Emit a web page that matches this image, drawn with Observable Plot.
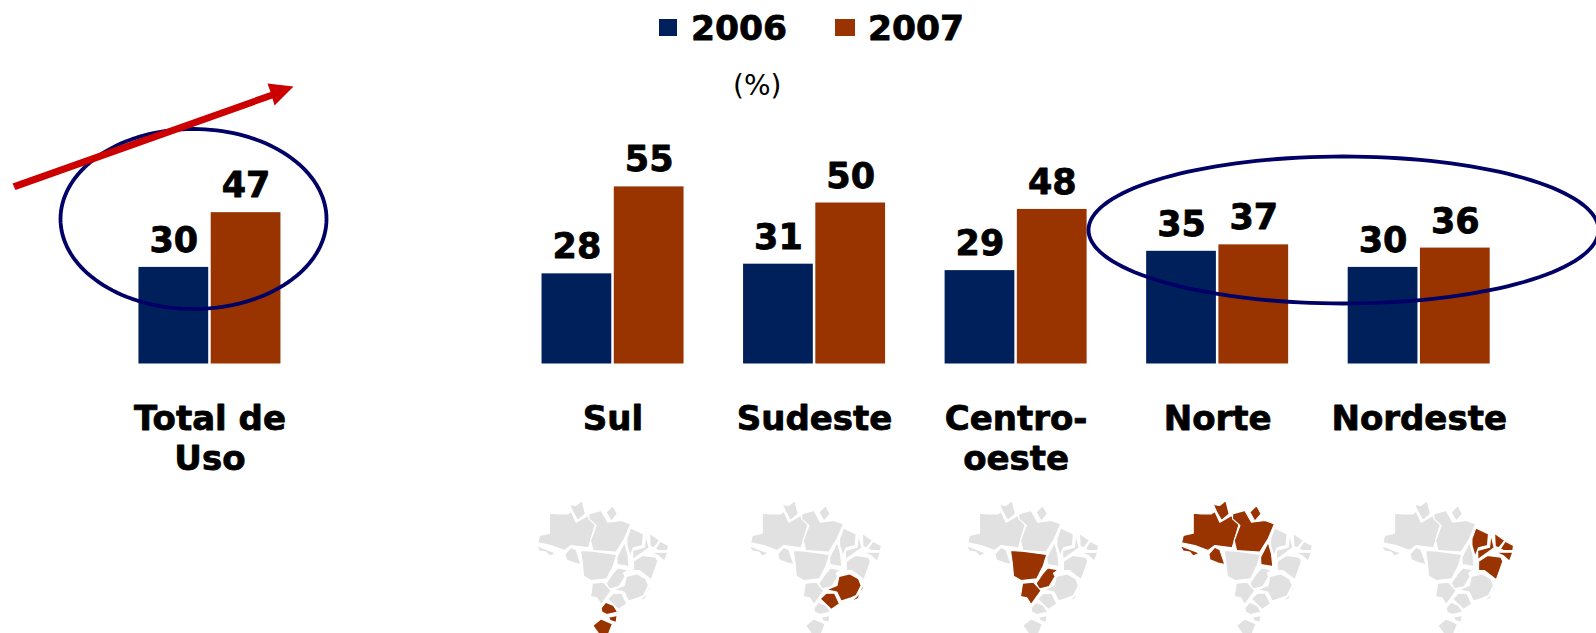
<!DOCTYPE html>
<html lang="pt">
<head>
<meta charset="utf-8">
<script src="https://cdn.jsdelivr.net/npm/d3@7"></script>
<script src="https://cdn.jsdelivr.net/npm/@observablehq/plot@0.6"></script>
<style>
html,body{margin:0;padding:0;background:#fff;overflow:hidden}
body{width:1596px;height:633px;font-family:"DejaVu Sans",sans-serif;color:#000}
#head{position:relative;height:110px;width:1596px}
#head span{position:absolute;line-height:1;white-space:nowrap}
#head .sw{display:block;position:absolute;top:19px;height:17px}
#head .yr{font-size:34.5px;font-weight:bold;top:11px;-webkit-text-stroke:0.8px #000}
#head .un{font-size:28px;left:733px;top:72px}
#chart svg{display:block}
</style>
</head>
<body>
<div id="head">
  <span class="sw" style="left:659px;width:18px;background:#00205c"></span>
  <span class="yr" style="left:691px">2006</span>
  <span class="sw" style="left:835px;width:20px;background:#993300"></span>
  <span class="yr" style="left:868px">2007</span>
  <span class="un">(%)</span>
</div>
<div id="chart"></div>
<script>
const categories = ["Total de Uso", "gap", "Sul", "Sudeste", "Centro-oeste", "Norte", "Nordeste"];
const categoryLabels = ["Total de\nUso", "", "Sul", "Sudeste", "Centro-\noeste", "Norte", "Nordeste"];
const series = ["2006", "2007"];
const values2006 = [30, null, 28, 31, 29, 35, 30];
const values2007 = [47, null, 55, 50, 48, 37, 36];
const seriesColors = ["#00205c", "#993300", "#e1e1e1"];

// Brazil's states
const stateNames = ["RR","AP","AM","AC","RO","PA","MT","TO","MA","PI","CE","NE1","NE2","BA","GO","MG","MS","SP","ES","PR","SC","RS"];
const statePoints = [
  [[153,42],[172,45],[191,30],[201,70],[178,90],[165,68]],
  [[263,65],[283,45],[297,70],[278,92]],
  [[93,68],[118,70],[148,70],[158,62],[173,95],[208,75],[231,100],[210,172],[158,165],[138,180],[98,165],[58,157],[63,135],[93,128]],
  [[53,165],[113,188],[93,197],[83,185],[63,182]],
  [[140,190],[158,170],[173,178],[188,222],[168,218],[143,208]],
  [[211,70],[248,60],[268,95],[308,90],[337,100],[318,145],[293,185],[223,180],[216,150],[233,105],[211,85]],
  [[186,180],[222,182],[295,192],[285,225],[265,265],[218,270],[195,257],[191,215]],
  [[318,155],[328,190],[332,228],[296,222],[295,200]],
  [[337,112],[375,130],[372,165],[345,172],[335,198],[325,165],[325,145]],
  [[382,130],[392,172],[360,195],[343,207],[342,180],[378,170]],
  [[393,128],[424,150],[406,172],[395,168]],
  [[425,152],[450,165],[448,180],[420,180],[410,175]],
  [[395,185],[448,185],[438,212],[420,196]],
  [[345,240],[345,212],[372,195],[412,200],[418,212],[410,235],[398,268],[362,240]],
  [[298,232],[330,238],[315,248],[320,258],[302,288],[272,296],[263,278],[282,250]],
  [[285,298],[317,285],[323,258],[355,250],[382,265],[390,285],[375,315],[360,322],[330,332],[317,305]],
  [[222,278],[255,275],[278,300],[248,342],[235,322],[216,318]],
  [[267,325],[285,308],[310,308],[325,340],[300,357]],
  [[397,272],[395,295],[380,325],[340,342],[325,345],[365,328],[385,310]],
  [[248,352],[262,335],[285,345],[298,365],[265,372],[250,365]],
  [[270,380],[296,375],[293,396],[275,390]],
  [[223,405],[248,385],[282,400],[268,436],[245,436]]
];
const regionStates = {
  "Sul": ["PR","SC","RS"],
  "Sudeste": ["SP","MG","ES"],
  "Centro-oeste": ["MT","GO","MS"],
  "Norte": ["RR","AP","AM","AC","RO","PA","TO"],
  "Nordeste": ["MA","PI","CE","NE1","NE2","BA"]
};
const mapShift = {"Sul": -22.3, "Sudeste": -11.1, "Centro-oeste": 4.6, "Norte": 16.8, "Nordeste": 16.6};

// layout constants
const pxPerBar = 72.25, pxPerUnit = 3.22, baseY = 253.5, headH = 110, frameLeft = 137.2;
const toX = (px) => px / pxPerBar;
const toY = (py) => (baseY - (py - headH)) / pxPerUnit;

const bars = categories.flatMap((c, i) => values2006[i] == null ? [] : [
  {cat: c, s: "2006", i: 0, v: values2006[i]},
  {cat: c, s: "2007", i: 1, v: values2007[i]}
]);

const mapPieces = Object.keys(regionStates).flatMap((cat) =>
  stateNames.flatMap((st, k) => statePoints[k].map(([u, v]) => ({
    cat, key: cat + st,
    s: regionStates[cat].includes(st) ? "2007" : "map",
    x: toX(u / 3 + mapShift[cat]),
    y: toY(490 + v / 3)
  })))
);

const ellipse = (cx, cy, rx, ry) => d3.range(145).map((k) => ({
  cat: categories[0],
  x: toX(cx - frameLeft + rx * Math.cos(k / 144 * 2 * Math.PI)),
  y: toY(cy + ry * Math.sin(k / 144 * 2 * Math.PI))
}));
const arrowPts = [[12,183],[270,91.5],[267,83],[293,86],[274,105],[272,98],[15,189.5]].map(([a, b]) => ({
  cat: categories[0], x: toX(a - frameLeft), y: toY(b)
}));

const labels = categories.map((c, i) => ({cat: c, label: categoryLabels[i]})).filter((d) => d.label);

const plot = Plot.plot({
  width: 1596,
  height: 523,
  marginLeft: frameLeft,
  marginRight: 105.06,
  marginTop: 0,
  marginBottom: 0,
  style: {fontFamily: '"DejaVu Sans", sans-serif', background: "#fff", overflow: "visible"},
  fx: {domain: categories, paddingInner: 0.283, paddingOuter: 0, round: false, axis: null, label: null},
  x: {domain: [0, 2], axis: null},
  y: {domain: [-(523 - baseY) / pxPerUnit, baseY / pxPerUnit], axis: null},
  color: {domain: [...series, "map"], range: seriesColors},
  marks: [
    Plot.rectY(bars, {fx: "cat", x1: "i", x2: (d) => d.i + 1, y1: 0, y2: "v", fill: "s", insetLeft: 1.25, insetRight: 1.25}),
    Plot.text(bars, {fx: "cat", x: (d) => d.i + 0.5, y: "v", text: "v", fill: "#000", stroke: "#000", strokeWidth: 0.8, fontSize: 35, fontWeight: "bold", lineAnchor: "bottom", dy: -15.5}),
    Plot.text(labels, {fx: "cat", x: 1, y: toY(401), text: "label", fill: "#000", stroke: "#000", strokeWidth: 0.8, fontSize: 34, fontWeight: "bold", lineAnchor: "top", lineHeight: 1.17}),
    Plot.line(mapPieces, {fx: "cat", x: "x", y: "y", z: "key", fill: "s", stroke: "#fff", strokeWidth: 1.2, curve: "linear-closed", strokeLinejoin: "round"}),
    Plot.line(ellipse(193, 218.5, 133, 90), {fx: "cat", x: "x", y: "y", stroke: "#000066", strokeWidth: 3.8}),
    Plot.line(ellipse(1343, 229.5, 255, 73.5), {fx: "cat", x: "x", y: "y", stroke: "#000066", strokeWidth: 3.8}),
    Plot.line(arrowPts, {fx: "cat", x: "x", y: "y", fill: "#cc0000", stroke: "none", curve: "linear-closed"})
  ]
});
document.getElementById("chart").append(plot);
</script>
</body>
</html>
